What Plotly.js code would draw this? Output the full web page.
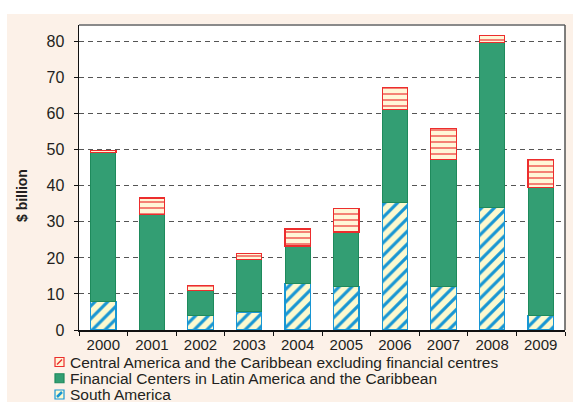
<!DOCTYPE html>
<html><head><meta charset="utf-8">
<script src="https://cdn.plot.ly/plotly-3.0.1.min.js"></script>
<style>
html,body{margin:0;padding:0;background:#fff;overflow:hidden;}
#bg{position:absolute;left:7px;top:14px;width:566px;height:388px;background:#fcf1e8;}
#chart{position:absolute;left:0;top:0;width:573px;height:402px;}
</style></head><body>
<div id="bg"></div><div id="chart"></div>
<script>
// ---- data ----
const years = ['2000','2001','2002','2003','2004','2005','2006','2007','2008','2009'];
const southAmerica     = [8.0, 0.0, 4.1, 5.0, 12.8, 12.0, 35.5, 12.0, 34.0, 4.0];
const financialCenters = [41.2, 32.0, 6.9, 14.6, 10.5, 15.2, 25.7, 35.4, 45.8, 35.6];
const centralAmerica   = [0.5, 4.6, 1.3, 1.6, 4.7, 6.6, 6.1, 8.4, 1.9, 7.8];
const seriesNames = [
  'Central America and the Caribbean excluding financial centres',
  'Financial Centers in Latin America and the Caribbean',
  'South America'
];
const yTicks = [0,10,20,30,40,50,60,70,80];

// ---- style ----
const FONT = 'Liberation Sans, Arial, sans-serif';
const TXT = '#231f20';
const BLUE = '#1896d3', CREAM = '#fdf9cf', GREEN = '#339e73', GREEN_D = '#1e8a5c', RED = '#ec2d2d';

const M = {l: 79, r: 8, t: 25, b: 72};
const W = 573, H = 402;
const pw = W - M.l - M.r, ph = H - M.t - M.b;
const px = x => (x - M.l) / pw;          // pixel -> paper x
const py = y => (H - M.b - y) / ph;      // pixel -> paper y

const traces = [
  {type:'bar', name: seriesNames[2], x: years, y: southAmerica, width: 0.52,
   marker:{color: CREAM, line:{color: BLUE, width:1.2},
     pattern:{shape:'/', fgcolor: BLUE, bgcolor: CREAM, size:9, solidity:0.35, fillmode:'replace'}},
   showlegend:false},
  {type:'bar', name: seriesNames[1], x: years, y: financialCenters, width: 0.52,
   marker:{color: GREEN, line:{color: GREEN_D, width:1}}, showlegend:false},
  {type:'bar', name: seriesNames[0], x: years, y: centralAmerica, width: 0.52,
   marker:{color: '#fff6d8', line:{color: RED, width:1.2},
     pattern:{shape:'-', fgcolor: '#f36a62', bgcolor: '#fff6d8', size:6, solidity:0.28, fillmode:'replace'}},
   showlegend:false}
];

// manual legend (text as annotations, icons as shapes)
const legRows = [362, 378.25, 394.5];
const shapes = [
  {type:'line', xref:'paper', yref:'paper', x0:0, x1:1, y0:1, y1:1, line:{color:'#8a8a8a', width:2}},
  {type:'line', xref:'paper', yref:'paper', x0:1, x1:1, y0:0, y1:1, line:{color:'#555', width:1.5}}
];
const iconFill = ['#fff6d8', GREEN, CREAM];
const iconLine = [RED, GREEN_D, BLUE];
legRows.forEach((cy, i) => {
  shapes.push({type:'rect', xref:'paper', yref:'paper', x0:px(55), x1:px(64), y0:py(cy+4.5), y1:py(cy-4.5),
    fillcolor: iconFill[i], line:{color: iconLine[i], width:1.2}});
  if (i !== 1) shapes.push({type:'line', xref:'paper', yref:'paper', x0:px(57), x1:px(62), y0:py(cy+2.5), y1:py(cy-2.5),
    line:{color: iconLine[i], width: i===2 ? 2.5 : 1.5}});
});
const annotations = seriesNames.map((t, i) => ({
  text: t, xref:'paper', yref:'paper', x: px(69), y: py(legRows[i]), xanchor:'left', yanchor:'middle',
  showarrow:false, borderpad:0, font:{family: FONT, size:15.5, color: TXT}
}));
annotations.push({text:'<b>$ billion</b>', xref:'paper', yref:'paper', x: px(22), y: py(196),
  xanchor:'center', yanchor:'middle', textangle:-90, showarrow:false, font:{family: FONT, size:14, color: TXT}});

const layout = {
  width: W, height: H, margin: M,
  paper_bgcolor:'rgba(0,0,0,0)', plot_bgcolor:'#ffffff',
  barmode:'stack', showlegend:false,
  font:{family: FONT, color: TXT},
  xaxis:{type:'category', range:[-0.5, 9.5], showline:true, linecolor:'#111', linewidth:1.5,
    ticks:'outside', tickson:'boundaries', ticklen:4, tickcolor:'#111', showgrid:false,
    tickfont:{size:15, color: TXT}, fixedrange:true},
  yaxis:{range:[0, 84.6], tickvals: yTicks, showline:true, linecolor:'#111', linewidth:1.5,
    ticks:'outside', ticklen:4, tickcolor:'#111', ticklabelstandoff:6,
    showgrid:true, gridcolor:'#555', griddash:'5px,4px', gridwidth:1, zeroline:false,
    tickfont:{size:16, color: TXT}, fixedrange:true},
  shapes, annotations
};
Plotly.newPlot('chart', traces, layout, {staticPlot:true});
</script></body></html>
